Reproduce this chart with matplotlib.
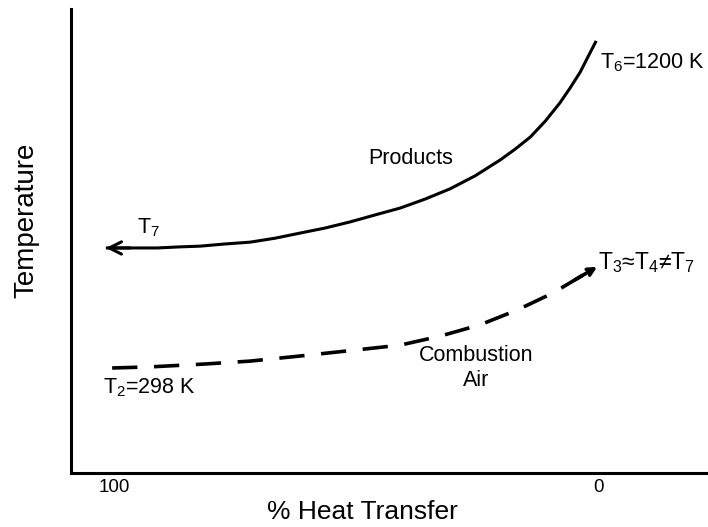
"""
Temperature vs % heat transfer sketch for the products / combustion air
heat exchanger. Saves out.png.
"""

import matplotlib
matplotlib.use("Agg")
import matplotlib.pyplot as plt

plt.rcParams["font.family"] = ["Liberation Sans", "DejaVu Sans"]
plt.rcParams["mathtext.fontset"] = "custom"
plt.rcParams["mathtext.rm"] = "Liberation Sans"

# Products stream (hot side), % heat transfer -> temperature (K)
products_pct = [101.7, 96.7, 91.1, 86.4, 82.2, 77.1, 71.9, 66.7, 61.6, 56.4, 51.2,
                46.1, 40.9, 35.7, 30.6, 25.4, 20.2, 17.1, 14.0, 10.9, 7.9, 5.8,
                3.7, 2.1, 0.4]
products_temp = [629, 629, 629, 632, 634, 640, 645, 656, 670, 684, 701,
                 720, 739, 764, 792, 828, 872, 902, 935, 979, 1029, 1070,
                 1114, 1156, 1200]

# Combustion air stream (cold side)
air_pct = [100.4, 92.6, 81.2, 71.9, 61.6, 49.8, 40.9, 32.6, 24.4, 16.7, 9.3, 4.8, 0.2]
air_temp = [298, 301, 309, 317, 331, 348, 361, 386, 417, 458, 505, 541, 577]

tick_pos = [100, 0]
tick_labels = ["100", "0"]

fig = plt.figure(figsize=(7.08, 5.27), dpi=100)
ax = fig.add_axes([71 / 708, 54 / 527, 637 / 708, 464 / 527])

# Products curve with open arrowhead at the cold end
ax.plot(products_pct, products_temp, color="black", lw=2.2, solid_capstyle="butt")
ax.annotate("", xy=(products_pct[0], products_temp[0]),
            xytext=(products_pct[1], products_temp[1]),
            arrowprops=dict(arrowstyle="->", color="black", lw=2.2,
                            mutation_scale=22, shrinkA=0, shrinkB=0))

# Combustion air curve, dashed, arrow at the hot end
ax.plot(air_pct, air_temp, color="black", lw=2.6, linestyle=(0, (7, 4.6)))
ax.annotate("", xy=(air_pct[-1], air_temp[-1]),
            xytext=(air_pct[-2], air_temp[-2]),
            arrowprops=dict(arrowstyle="->", color="black", lw=2.6,
                            mutation_scale=12, shrinkA=0, shrinkB=0))

# Labels on the curves
fs = 15.5
ax.text(95.2, 684, r"T$_\mathrm{7}$", fontsize=fs, ha="left", va="center")
ax.text(38.8, 877, "Products", fontsize=fs, ha="center", va="center")
ax.text(-0.4, 1139, r"T$_\mathrm{6}$=1200 K", fontsize=fs, ha="left", va="center")
ax.text(0, 588, r"T$_\mathrm{3}$≈T$_\mathrm{4}$≠T$_\mathrm{7}$", fontsize=16.5,
        ha="left", va="center")
ax.text(25.2, 298, "Combustion\nAir", fontsize=fs, ha="center", va="center",
        multialignment="center", linespacing=1.25)
ax.text(102.3, 243, r"T$_\mathrm{2}$=298 K", fontsize=fs, ha="left", va="center")

# Axes
ax.set_xlim(108.9, -22.7)
ax.set_ylim(8.4, 1288)
ax.set_xticks(tick_pos)
ax.set_xticklabels(tick_labels, fontsize=13.5)
ax.set_yticks([])
ax.tick_params(axis="x", length=0, pad=4)
ax.set_xlabel("% Heat Transfer", fontsize=19)
ax.xaxis.set_label_coords(0.457, -0.058)
ax.set_ylabel("Temperature", fontsize=20)
ax.yaxis.set_label_coords(-0.05, 0.545)

for side in ["top", "right"]:
    ax.spines[side].set_visible(False)
for side in ["left", "bottom"]:
    ax.spines[side].set_linewidth(2.2)

fig.savefig("out.png", dpi=100)
